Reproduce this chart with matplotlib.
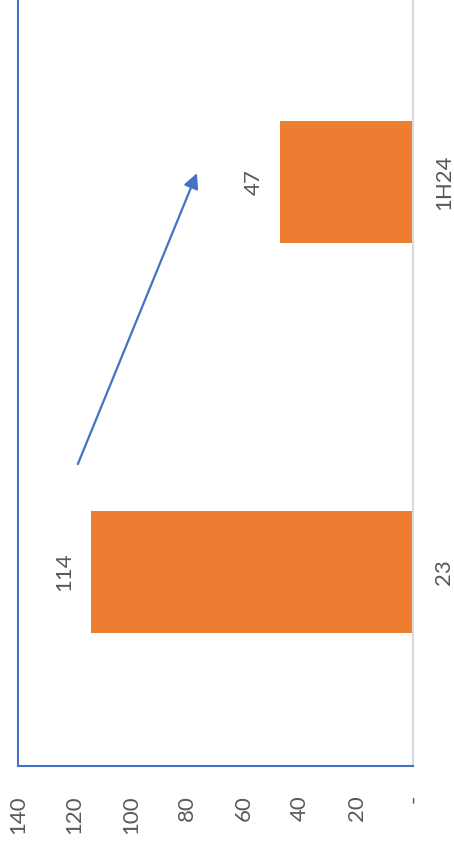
import matplotlib
matplotlib.use("Agg")
import matplotlib.pyplot as plt

categories = ["23", "1H24"]
values = [114, 47]
value_ticks = [0, 20, 40, 60, 80, 100, 120, 140]
value_tick_labels = ["-", "20", "40", "60", "80", "100", "120", "140"]

plt.rcParams['font.family'] = ['Lato', 'DejaVu Sans']
TXT = "#595959"
BAR = "#ED7D31"
BLUE = "#4472C4"
FS = 16

W, H = 454, 846
fig = plt.figure(figsize=(W / 100, H / 100), dpi=100)
ax = fig.add_axes([18 / W, (H - 766) / H, 395 / W, 766 / H])

pos = list(range(len(categories)))
ax.barh(pos, values, height=0.313, color=BAR, zorder=2)
ax.set_xlim(140, 0)
ax.set_ylim(-0.497, 1.467)

ax.set_xticks(value_ticks)
ax.set_xticklabels(value_tick_labels, rotation=90, color=TXT, fontsize=FS)
ax.tick_params(axis='x', length=0, pad=21)

ax.yaxis.tick_right()
ax.set_yticks(pos)
ax.set_yticklabels(categories, rotation=90, color=TXT, fontsize=FS, va='center')
ax.tick_params(axis='y', length=0, pad=15)

ax.spines['top'].set_visible(False)
ax.spines['left'].set_color(BLUE)
ax.spines['left'].set_linewidth(1.5)
ax.spines['bottom'].set_color(BLUE)
ax.spines['bottom'].set_linewidth(1.5)
ax.spines['right'].set_color("#D5DBE0")
ax.spines['right'].set_linewidth(1.5)

for p, v in zip(pos, values):
    ax.annotate(str(v), xy=(v, p), xytext=(-19.5, 0), textcoords='offset points',
                rotation=90, ha='center', va='center', color=TXT, fontsize=FS)

ax.annotate("", xy=(76.6, 1.023), xytext=(118.8, 0.277),
            arrowprops=dict(arrowstyle="-|>,head_length=0.9,head_width=0.45",
                            color=BLUE, lw=1.6, shrinkA=0, shrinkB=0))

fig.savefig("out.png", dpi=100, facecolor="white")
